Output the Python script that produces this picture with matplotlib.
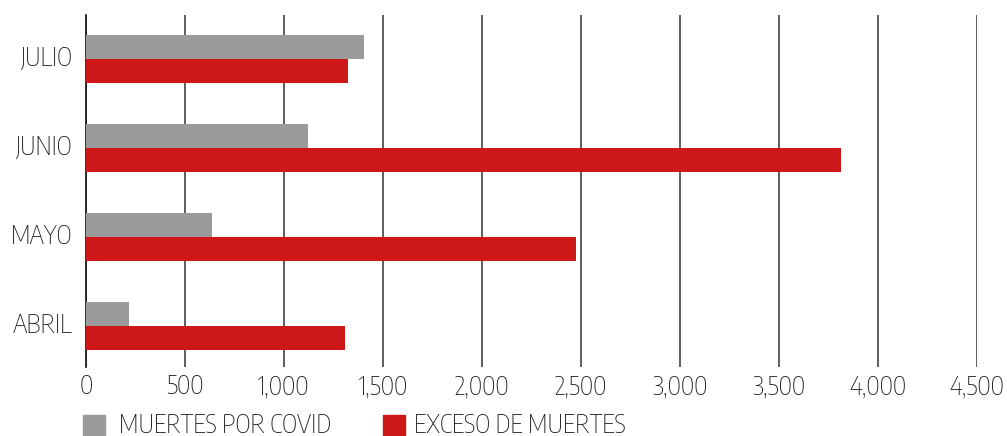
import matplotlib
matplotlib.use("Agg")
import matplotlib.pyplot as plt
from matplotlib.patches import Rectangle
from matplotlib import font_manager
from matplotlib.font_manager import FontProperties
from matplotlib.textpath import TextPath
import numpy as np

categories = ["ABRIL", "MAYO", "JUNIO", "JULIO"]
covid_deaths = [215, 634, 1119, 1402]
excess_deaths = [1308, 2477, 3815, 1321]
xticks = [0, 500, 1000, 1500, 2000, 2500, 3000, 3500, 4000, 4500]
xtick_labels = ["0", "500", "1,000", "1,500", "2,000", "2,500", "3,000", "3,500", "4,000", "4,500"]
series_names = ["MUERTES POR COVID", "EXCESO DE MUERTES"]

GRAY = "#9b9b9b"
RED = "#cd1719"
TEXT = "#1a1a1a"

# pick a condensed family that fits the reference text metrics
candidates = ["PT Sans Narrow", "Fira Sans Condensed", "Roboto Condensed", "Archivo Narrow",
              "Asap Condensed", "Barlow Semi Condensed", "Encode Sans Condensed",
              "IBM Plex Sans Condensed", "Open Sans Condensed", "Sofia Sans Condensed",
              "Encode Sans Semi Condensed", "Cabin Condensed", "Ubuntu Condensed",
              "Fira Sans Extra Condensed", "Barlow Condensed", "Saira Condensed"]
installed = {f.name for f in font_manager.fontManager.ttflist}
WEIGHT = "light"
best = None
for fam in candidates:
    if fam not in installed:
        continue
    fp = FontProperties(family=fam, weight=WEIGHT)
    try:
        cap = TextPath((0, 0), "H", size=100, prop=fp).get_extents().height / 100
        wid = TextPath((0, 0), series_names[0], size=100, prop=fp).get_extents().width / 100
    except Exception:
        continue
    size_pt = 19 * 0.72 / cap
    w_px = wid * size_pt * 100 / 72
    err = abs(w_px - 207)
    if best is None or err < best[0]:
        best = (err, fam, size_pt)
if best is None:
    best = (0, "Liberation Sans", 17)
_, FAM, FS = best
plt.rcParams["font.family"] = [FAM, "DejaVu Sans"]
plt.rcParams["font.weight"] = WEIGHT

W, H = 1007, 436
fig = plt.figure(figsize=(W / 100, H / 100), dpi=100)
left, right, top, bottom = 86, 977, 15, 367
ax = fig.add_axes([left / W, 1 - bottom / H, (right - left) / W, (bottom - top) / H])

y = np.arange(len(categories))
h = 0.27
ax.barh(y + h / 2, covid_deaths, height=h, color=GRAY, zorder=3)
ax.barh(y - h / 2, excess_deaths, height=h, color=RED, zorder=3)

ax.set_xlim(0, 4500)
ax.set_ylim(-0.464, 3.491)
ax.set_xticks(xticks)
ax.set_xticklabels(xtick_labels)
ax.set_yticks(y)
ax.set_yticklabels(categories, va="center")
ax.tick_params(axis="both", length=0, labelsize=FS, colors=TEXT)
ax.tick_params(axis="x", pad=5)
ax.tick_params(axis="y", pad=10)
for s in ["top", "right", "bottom"]:
    ax.spines[s].set_visible(False)
ax.spines["left"].set_color("#111111")
ax.spines["left"].set_linewidth(1.2)
ax.grid(axis="x", color="#333333", linewidth=1.1)
ax.set_axisbelow(True)
ax.set_facecolor("white")

# legend (manual, in pixel coordinates)
items = [(83, GRAY, series_names[0], 119), (383, RED, series_names[1], 414)]
for x0, col, label, tx in items:
    fig.add_artist(Rectangle((x0 / W, 1 - 438 / H), 22 / W, 23 / H,
                             transform=fig.transFigure, color=col))
    fig.text(tx / W, 1 - 433 / H, label, fontsize=FS, color=TEXT,
             va="baseline", ha="left")

fig.savefig("out.png", dpi=100, facecolor="white")
